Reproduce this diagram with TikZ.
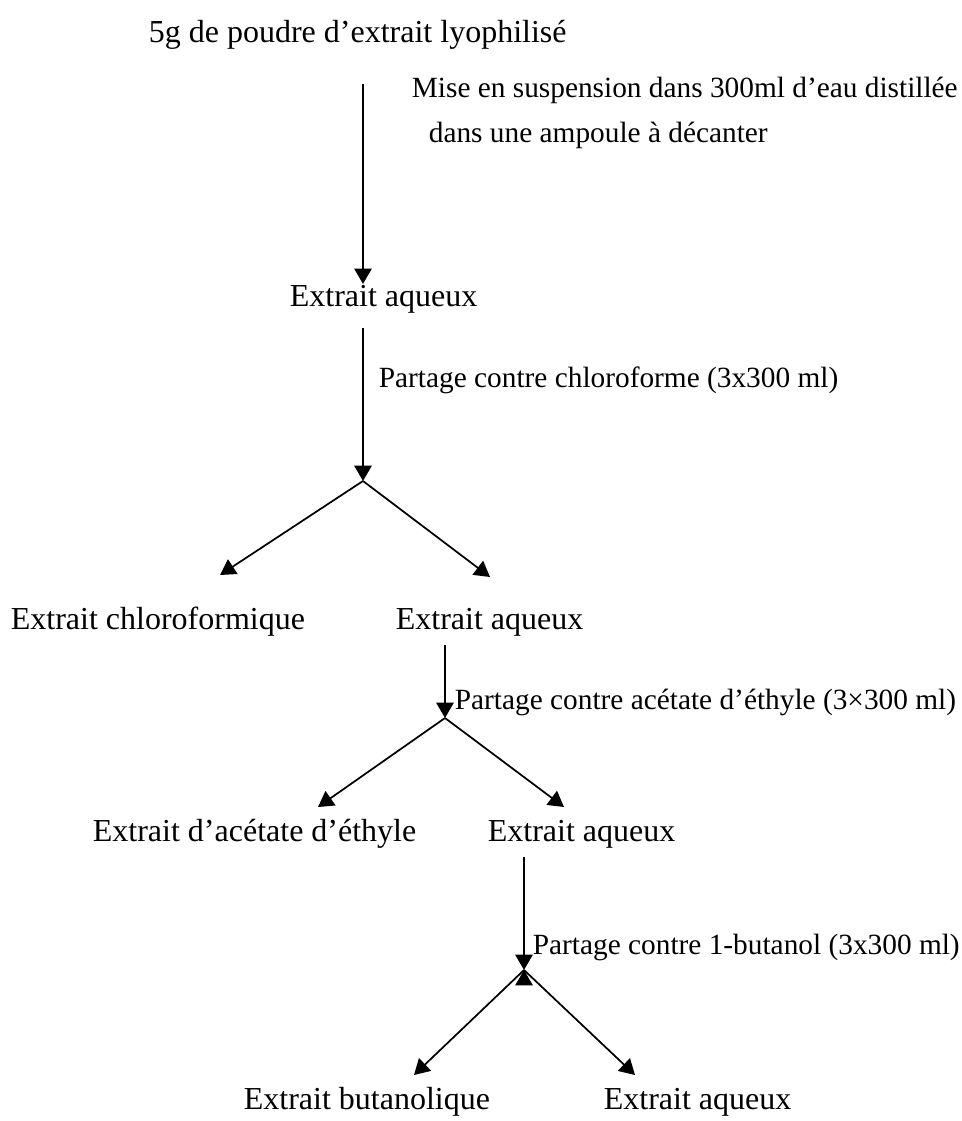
\documentclass[tikz,border=0pt]{standalone}
\usepackage{fontspec}
\setmainfont{Liberation Serif}
\usetikzlibrary{arrows.meta,positioning}

\begin{document}
\begin{tikzpicture}[x=0.75pt,y=-0.75pt,>={Triangle[width=13pt,length=11.5pt]},line width=1.3pt,
  every node/.style={anchor=base west,inner sep=0pt,font=\fontsize{24}{28}\selectfont},
  note/.style={font=\fontsize{22}{26}\selectfont}]
\useasboundingbox (0,0) rectangle (962,1121);
\node (poudre) at (148,42) {5g de poudre d’extrait lyophilisé};
\node[note] (mise) at (411,97) {Mise en suspension dans 300ml d’eau distillée};
\node[note] (ampoule) at (428,142) {dans une ampoule à décanter};
\node (aq1) at (289,306) {Extrait aqueux};
\node[note] (chlf) at (378,387) {Partage contre chloroforme (3x300 ml)};
\node (extchl) at (10,629) {Extrait chloroformique};
\node (aq2) at (395,629) {Extrait aqueux};
\node[note] (acet) at (454,709) {Partage contre acétate d’éthyle (3×300 ml)};
\node (extacet) at (92,841) {Extrait d’acétate d’éthyle};
\node (aq3) at (487,841) {Extrait aqueux};
\node[note] (buoh) at (532,954) {Partage contre 1-butanol (3x300 ml)};
\node (extbu) at (243,1109) {Extrait butanolique};
\node (aq4) at (603,1109) {Extrait aqueux};

% branch points and arrow ends
\coordinate (s0) at (363,84);
\coordinate (b1) at (363,481);
\coordinate (b2) at (445,718);
\coordinate (b3) at (524,970);
\coordinate (e1l) at (220,575);
\coordinate (e1r) at (490,577);
\coordinate (e2l) at (318,807);
\coordinate (e2r) at (564,807);
\coordinate (e3l) at (414,1075);
\coordinate (e3r) at (635,1075);

\draw[->] (s0) edge (aq1.north -| s0)
          (aq1.south -| b1) ++(0,14) edge (b1)
          (b1) edge (e1l)
          (b1) edge (e1r)
          (aq2.south -| b2) ++(0,8) edge (b2)
          (b2) edge (e2l)
          (b2) edge (e2r)
          (aq3.south -| b3) ++(0,8) edge (b3)
          (b3) edge (e3l)
          (b3) edge (e3r);
\end{tikzpicture}
\end{document}
